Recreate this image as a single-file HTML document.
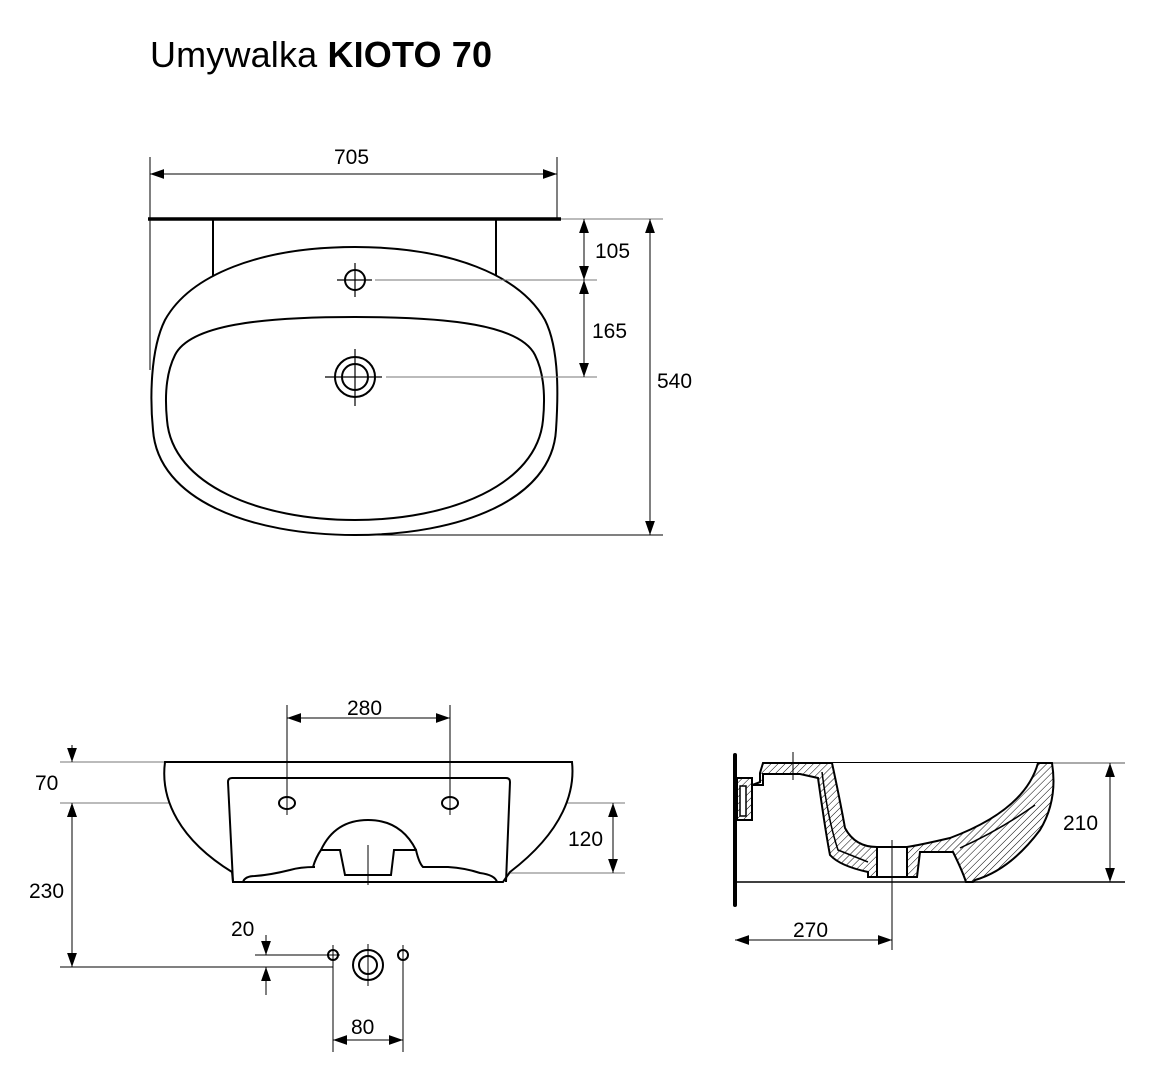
<!DOCTYPE html>
<html><head><meta charset="utf-8"><style>
html,body{margin:0;padding:0;background:#fff;}
svg{display:block}
text{font-family:"Liberation Sans",sans-serif;fill:#000}
</style></head><body>
<svg width="1149" height="1085" viewBox="0 0 1149 1085" xmlns="http://www.w3.org/2000/svg">
<defs>
<marker id="a" viewBox="0 0 10 10" refX="10" refY="5" markerWidth="14" markerHeight="14" markerUnits="userSpaceOnUse" orient="auto-start-reverse"><path d="M0,1.5 L10,5 L0,8.5Z" fill="#000"/></marker>
<pattern id="h" width="5" height="5" patternUnits="userSpaceOnUse" patternTransform="rotate(45)"><line x1="0" y1="0" x2="0" y2="5" stroke="#000" stroke-width="1"/></pattern>
</defs>
<text x="150" y="67" font-size="36" textLength="342">Umywalka <tspan font-weight="bold">KIOTO 70</tspan></text>

<!-- TOP VIEW -->
<g stroke="#000" fill="none">
<line x1="150" y1="157" x2="150" y2="370" stroke-width="1"/>
<line x1="557" y1="157" x2="557" y2="219" stroke-width="1"/>
<line x1="150" y1="174" x2="557" y2="174" stroke-width="1" marker-start="url(#a)" marker-end="url(#a)"/>
<line x1="148" y1="219" x2="561" y2="219" stroke-width="3.5"/>
<line x1="561" y1="219" x2="663" y2="219" stroke-width="1" stroke="#777"/>
<line x1="213" y1="219" x2="213" y2="276" stroke-width="2"/>
<line x1="496" y1="219" x2="496" y2="279" stroke-width="2"/>
<path d="M355,247 C450,247 520,275 545,320 C560,350 558,400 556,430 C552,500 460,535 355,535 C250,535 158,500 153,430 C150,400 150,350 165,320 C190,275 260,247 355,247Z" stroke-width="2" fill="#fff"/>
<path d="M355,317 C450,317 520,325 535,355 C545,375 545,400 543,420 C537,485 450,520 355,520 C260,520 172,485 167,420 C165,400 165,375 175,355 C190,325 260,317 355,317Z" stroke-width="2"/>
<circle cx="355" cy="280" r="10" stroke-width="2"/>
<line x1="355" y1="263" x2="355" y2="297" stroke-width="1.2"/>
<line x1="337" y1="280" x2="372" y2="280" stroke-width="1.2"/>
<line x1="375" y1="280" x2="597" y2="280" stroke-width="1" stroke="#777"/>
<circle cx="355" cy="377" r="20" stroke-width="2"/>
<circle cx="355" cy="377" r="13" stroke-width="2"/>
<line x1="355" y1="349" x2="355" y2="406" stroke-width="1.2"/>
<line x1="325" y1="377" x2="382" y2="377" stroke-width="1.2"/>
<line x1="386" y1="377" x2="597" y2="377" stroke-width="1" stroke="#777"/>
<line x1="355" y1="535" x2="663" y2="535" stroke-width="1"/>
<line x1="584" y1="219" x2="584" y2="280" stroke-width="1" marker-start="url(#a)" marker-end="url(#a)"/>
<line x1="584" y1="280" x2="584" y2="377" stroke-width="1" marker-start="url(#a)" marker-end="url(#a)"/>
<line x1="650" y1="219" x2="650" y2="535" stroke-width="1" marker-start="url(#a)" marker-end="url(#a)"/>
</g>
<g font-size="21">
<text x="334" y="164">705</text>
<text x="595" y="258">105</text>
<text x="592" y="338">165</text>
<text x="657" y="388">540</text>
</g>

<!-- FRONT VIEW -->
<g stroke="#000" fill="none">
<line x1="60" y1="762" x2="165" y2="762" stroke-width="1" stroke="#777"/>
<line x1="60" y1="803" x2="625" y2="803" stroke-width="1" stroke="#777"/>
<line x1="500" y1="873" x2="625" y2="873" stroke-width="1" stroke="#777"/>
<path d="M165,762 L572,762 C575,790 565,830 510,872 L503,882 L233,882 L232,872 C180,840 160,800 165,762Z" stroke-width="2" fill="#fff"/>
<path d="M228,782 Q228,778 232,778 L506,778 Q510,778 510,782 L506,882 M228,782 L233,882" stroke-width="2"/>
<path d="M243,882 Q245,876 255,876 Q270,875 290,870 Q300,867 315,867 L313,867 Q316,857 321,850 L340,850 L345,875 L391,875 L394,850 L416,850 Q419,863 423,867 L448,867 Q465,868 480,873 Q495,875 497,882" stroke-width="2"/>
<path d="M321,850 Q335,820 368,820 Q401,820 416,850" stroke-width="2"/>
<ellipse cx="287" cy="803" rx="8" ry="6" stroke-width="2"/>
<ellipse cx="450" cy="803" rx="8" ry="6" stroke-width="2"/>
<line x1="287" y1="705" x2="287" y2="815" stroke-width="1"/>
<line x1="450" y1="705" x2="450" y2="815" stroke-width="1"/>
<line x1="368" y1="845" x2="368" y2="885" stroke-width="1"/>
<line x1="287" y1="718" x2="450" y2="718" stroke-width="1" marker-start="url(#a)" marker-end="url(#a)"/>
<line x1="72" y1="745" x2="72" y2="762" stroke-width="1" marker-end="url(#a)"/>
<line x1="72" y1="820" x2="72" y2="803" stroke-width="1" marker-end="url(#a)"/>
<line x1="72" y1="803" x2="72" y2="967" stroke-width="1" marker-start="url(#a)" marker-end="url(#a)"/>
<line x1="613" y1="803" x2="613" y2="873" stroke-width="1" marker-start="url(#a)" marker-end="url(#a)"/>
<line x1="60" y1="967" x2="333" y2="967" stroke-width="1"/>
<line x1="255" y1="955" x2="340" y2="955" stroke-width="1"/>
<line x1="266" y1="935" x2="266" y2="955" stroke-width="1" marker-end="url(#a)"/>
<line x1="266" y1="995" x2="266" y2="967" stroke-width="1" marker-end="url(#a)"/>
<circle cx="333" cy="955" r="5" stroke-width="2"/>
<circle cx="403" cy="955" r="5" stroke-width="2"/>
<circle cx="368" cy="965" r="15" stroke-width="2"/>
<circle cx="368" cy="965" r="9" stroke-width="2"/>
<line x1="368" y1="944" x2="368" y2="986" stroke-width="1"/>
<line x1="333" y1="945" x2="333" y2="1052" stroke-width="1"/>
<line x1="403" y1="945" x2="403" y2="1052" stroke-width="1"/>
<line x1="333" y1="1040" x2="403" y2="1040" stroke-width="1" marker-start="url(#a)" marker-end="url(#a)"/>
</g>
<g font-size="21">
<text x="347" y="715">280</text>
<text x="35" y="790">70</text>
<text x="29" y="898">230</text>
<text x="568" y="846">120</text>
<text x="231" y="936">20</text>
<text x="351" y="1034">80</text>
</g>

<!-- SIDE VIEW -->
<g stroke="#000" fill="none">
<line x1="735" y1="755" x2="735" y2="905" stroke-width="4" stroke-linecap="round"/>
<line x1="765" y1="763" x2="1125" y2="763" stroke-width="1" stroke="#555"/>
<line x1="735" y1="882" x2="1125" y2="882" stroke-width="1.5"/>
<path d="M737,778 L752,778 L752,785 L760,782 L760,773 L763,763 L832,763 L840,763 L1052,763 Q1058,800 1040,830 Q1010,870 975,880 L973,882 L966,882 Q962,870 953,852 L920,852 L917,877 L868,877 L868,872 Q840,866 830,855 Q826,835 818,778 L800,774 L763,774 L763,785 L752,785 L752,820 L737,820Z" fill="url(#h)" stroke-width="2"/>
<path d="M832,763 Q840,800 845,828 Q855,847 877,847 L907,847 Q920,845 950,838 Q1025,810 1038,763" stroke-width="2" fill="#fff"/>
<rect x="877" y="847" width="30" height="30" fill="#fff" stroke-width="2"/>
<path d="M740,786 L746,786 L746,816 L740,816Z" fill="#fff" stroke-width="1.5"/>
<path d="M822,772 Q828,820 838,850 L868,862" stroke-width="1.5"/>
<path d="M960,848 Q1000,830 1035,805" stroke-width="1.5"/>
<line x1="793" y1="752" x2="793" y2="780" stroke-width="1"/>
<line x1="892" y1="840" x2="892" y2="950" stroke-width="1"/>
<line x1="735" y1="940" x2="892" y2="940" stroke-width="1" marker-start="url(#a)" marker-end="url(#a)"/>
<line x1="1110" y1="763" x2="1110" y2="882" stroke-width="1" marker-start="url(#a)" marker-end="url(#a)"/>
</g>
<g font-size="21">
<text x="1063" y="830">210</text>
<text x="793" y="937">270</text>
</g>
</svg>
</body></html>
